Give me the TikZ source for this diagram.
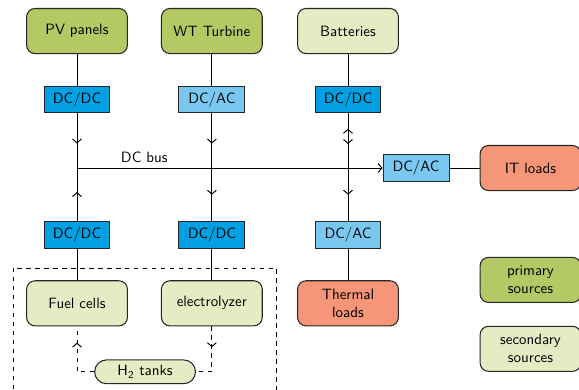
\documentclass[tikz,border=0pt]{standalone}
\usepackage{xcolor}
\usepackage{tikz}
\usetikzlibrary{arrows.meta, positioning, calc, decorations.markings}
\definecolor{primgreen}{RGB}{180, 200, 100}
\definecolor{secgreen}{RGB}{228, 236, 196}
\definecolor{convdark}{RGB}{0, 160, 226}
\definecolor{convlight}{RGB}{122, 200, 240}
\definecolor{loadred}{RGB}{245, 150, 120}
\tikzstyle{source} = [rectangle, draw=black!85, text centered, rounded corners=2mm, minimum width=2.37cm, minimum height=1.06cm, line width=0.7pt, font=\sffamily]
\tikzstyle{conv} = [rectangle, draw=black!85, text centered, minimum width=1.55cm, minimum height=0.63cm, line width=0.7pt, font=\sffamily]
\tikzstyle{flow} = [line width=0.65pt]
\tikzstyle{midfwd} = [postaction={decorate}, decoration={markings, mark=at position #1 with {\arrow{Straight Barb[length=2.6pt, width=6pt]}}}]
\tikzstyle{midboth} = [postaction={decorate}, decoration={markings, mark=at position 0.28 with {\arrowreversed{Straight Barb[length=2.6pt, width=6pt]}}, mark=at position 0.56 with {\arrow{Straight Barb[length=2.6pt, width=6pt]}}}]

\begin{document}
\begin{tikzpicture}
    \useasboundingbox (0,0) rectangle (13.61,-9.165);
    % Sources and loads
    \node[source, fill=primgreen] (pv) at (1.81,-0.73) {PV panels};
    \node[source, fill=primgreen] (wt) at (4.98,-0.73) {WT Turbine};
    \node[source, fill=secgreen] (bat) at (8.18,-0.73) {Batteries};
    \node[source, fill=loadred] (it) at (12.47,-3.95) {IT loads};
    \node[source, fill=secgreen] (fc) at (1.81,-7.13) {Fuel cells};
    \node[source, fill=secgreen] (ely) at (4.98,-7.13) {electrolyzer};
    \node[source, fill=loadred, align=center] (th) at (8.18,-7.13) {Thermal\\loads};
    \node[source, fill=secgreen, rounded corners=2.8mm, minimum height=0.56cm, inner sep=1pt] (h2) at (3.41,-8.74) {H\textsubscript{2} tanks};

    % Converters
    \node[conv, fill=convdark] (dcpv) at (1.81,-2.34) {DC/DC};
    \node[conv, fill=convlight] (dcwt) at (4.98,-2.34) {DC/AC};
    \node[conv, fill=convdark] (dcbat) at (8.18,-2.34) {DC/DC};
    \node[conv, fill=convlight] (dcit) at (9.78,-3.95) {DC/AC};
    \node[conv, fill=convdark] (dcfc) at (1.81,-5.53) {DC/DC};
    \node[conv, fill=convdark] (dcely) at (4.98,-5.53) {DC/DC};
    \node[conv, fill=convlight] (dcth) at (8.18,-5.53) {DC/AC};

    % Legend
    \node[source, fill=primgreen, align=center] (leg1) at (12.47,-6.58) {primary\\sources};
    \node[source, fill=secgreen, align=center] (leg2) at (12.47,-8.20) {secondary\\sources};

    % DC bus
    \coordinate (bus) at (1.81,-3.95);
    \draw[flow, -{Straight Barb[length=2.6pt, width=6pt]}] (bus) -- (dcit) node[pos=0.22, above, font=\sffamily] {DC bus};
    \draw[flow] (dcit) -- (it);

    % Links to the bus
    \draw[flow] (pv) -- (dcpv);
    \draw[flow] (wt) -- (dcwt);
    \draw[flow] (bat) -- (dcbat);
    \draw[flow, midfwd=0.55] (dcpv) -- (dcpv |- bus);
    \draw[flow, midfwd=0.55] (dcwt) -- (dcwt |- bus);
    \draw[flow, midboth] (dcbat) -- (dcbat |- bus);
    \draw[flow, midfwd=0.55] (dcfc) -- (dcfc |- bus);
    \draw[flow, midfwd=0.5] (dcwt |- bus) -- (dcely);
    \draw[flow, midfwd=0.5] (dcbat |- bus) -- (dcth);
    \draw[flow] (dcfc) -- (fc);
    \draw[flow] (dcely) -- (ely);
    \draw[flow] (dcth) -- (th);

    % Hydrogen loop
    \draw[flow, dashed] (0.31,-6.30) rectangle (6.49,-9.5);
    \draw[flow, dashed, midfwd=0.74] (h2.west) -| (fc.south);
    \draw[flow, dashed, midfwd=0.34] (ely.south) |- (h2.east);
\end{tikzpicture}
\end{document}
